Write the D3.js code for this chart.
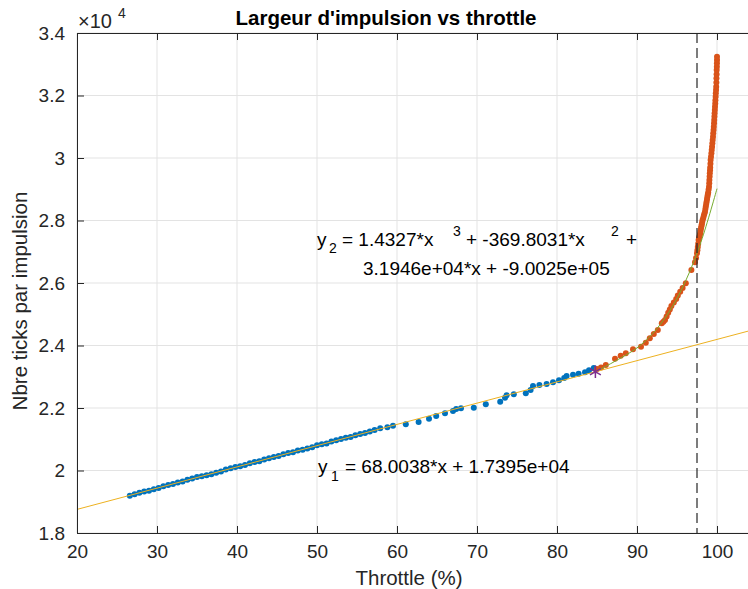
<!DOCTYPE html>
<html>
<head>
<meta charset="utf-8">
<script src="https://cdn.jsdelivr.net/npm/d3@7"></script>
<style>
  body { margin: 0; background: #fff; }
  text { font-family: "Liberation Sans", Arial, sans-serif; fill: #262626; }
</style>
</head>
<body>
<script>
var svgWidth = 748;
var svgHeight = 589;

// measured data (throttle %, ticks per pulse)
var blueThrottle = [26.6, 27.2, 27.8, 28.4, 29.0, 29.6, 30.2, 30.8, 31.4, 32.0, 32.6, 33.2, 33.8, 34.4, 35.0, 35.6,
  36.2, 36.8, 37.4, 38.0, 38.6, 39.2, 39.8, 40.4, 41.0, 41.6, 42.2, 42.8, 43.4, 44.0, 44.6, 45.2, 45.8, 46.4,
  47.0, 47.6, 48.2, 48.8, 49.4, 50.0, 50.6, 51.2, 51.8, 52.4, 53.0, 53.6, 54.2, 54.8, 55.4, 56.0, 56.6, 57.2,
  57.9, 58.8, 59.5, 61.1, 62.7, 64.0, 64.9, 66.0, 67.0, 67.4, 68.0, 69.6, 71.1, 72.9, 73.5, 73.7, 74.6, 76.1,
  76.7, 77.0, 77.8, 78.7, 79.5, 80.25, 80.9, 81.2, 82.0, 82.7, 83.5, 84.0, 84.6];
var blueTicks = [19194, 19238, 19292, 19330, 19355, 19402, 19440, 19498, 19536, 19565, 19620, 19650, 19705, 19742, 19790, 19820,
  19850, 19880, 19925, 19968, 20030, 20075, 20110, 20138, 20176, 20230, 20270, 20300, 20352, 20395, 20430, 20462, 20518, 20560,
  20585, 20640, 20668, 20705, 20745, 20810, 20840, 20868, 20925, 20965, 21010, 21045, 21075, 21130, 21170, 21198, 21250, 21300,
  21350, 21382, 21434, 21478, 21552, 21658, 21744, 21830, 21904, 21968, 21990, 22010, 22118, 22202, 22330, 22406, 22438, 22470,
  22576, 22704, 22736, 22768, 22822, 22886, 22960, 23024, 23066, 23098, 23142, 23206, 23280];

var orangeThrottle = [85.0, 85.5, 86.1, 87.25, 87.96, 88.6, 89.5, 90.5, 91.1, 91.6, 92.1, 92.6, 93.1, 93.3, 93.5, 93.7,
  93.9, 94.1, 94.3, 94.6, 94.9, 95.1, 95.4, 95.7, 96.1, 96.8, 97.25, 97.38, 97.5, 97.55, 97.6, 97.65, 97.7, 97.75,
  97.8, 97.85, 97.9, 97.95, 98.0, 98.05, 98.1, 98.15, 98.2, 98.28, 98.35, 98.42, 98.5, 98.55, 98.6, 98.65, 98.7,
  98.75, 98.8, 98.85, 98.9, 98.95, 99.0, 99.03, 99.05, 99.08, 99.1, 99.13, 99.15, 99.18, 99.2, 99.25, 99.3, 99.34,
  99.38, 99.42, 99.46, 99.5, 99.53, 99.57, 99.6, 99.63, 99.65, 99.68, 99.7, 99.73, 99.75, 99.78, 99.8, 99.83,
  99.85, 99.88, 99.9, 99.92, 99.93, 99.95, 99.96, 99.98, 99.99, 100.0, 100.0];
var orangeTicks = [23250, 23300, 23376, 23578, 23674, 23750, 23878, 23962, 24090, 24230, 24368, 24496, 24710, 24760, 24816, 24930,
  25050, 25150, 25264, 25380, 25488, 25600, 25722, 25840, 25990, 26416, 26662, 26800, 26950, 27050, 27150, 27260, 27376, 27430,
  27480, 27535, 27590, 27670, 27750, 27815, 27880, 27950, 28016, 28080, 28150, 28215, 28282, 28365, 28450, 28525, 28600,
  28680, 28762, 28830, 28900, 28990, 29082, 29190, 29300, 29405, 29510, 29605, 29700, 29820, 29936, 30040, 30150, 30255,
  30360, 30470, 30576, 30680, 30790, 30900, 31002, 31110, 31220, 31325, 31430, 31535, 31642, 31745, 31850, 31960,
  32070, 32175, 32282, 32415, 32550, 32680, 32816, 32920, 33030, 33140, 33242];

// fit curves
var fit1Throttle = [20, 104];
var fit1Ticks = [18755, 24467];
var fit2Throttle = [85, 87, 90, 92, 94, 96, 98, 100];
var fit2Ticks = [23191, 23460, 23923, 24395, 25072, 26022, 27315, 29019];

var switchPoint = [84.8, 23160];
var thresholdThrottle = 97.5;

var xTicks = [20, 30, 40, 50, 60, 70, 80, 90, 100];
var yTicks = [18000, 20000, 22000, 24000, 26000, 28000, 30000, 32000, 34000];

var svg = d3.select("body")
  .append("svg")
  .attr("width", svgWidth)
  .attr("height", svgHeight);

var x = d3.scaleLinear().domain([20, 104]).range([77, 749]);
var y = d3.scaleLinear().domain([18000, 34000]).range([533, 33]);

// grid
svg.append("g").selectAll("line")
  .data(xTicks)
  .enter().append("line")
  .attr("x1", d => x(d)).attr("x2", d => x(d))
  .attr("y1", 33).attr("y2", 533)
  .attr("stroke", "#e3e3e3");
svg.append("g").selectAll("line")
  .data(yTicks)
  .enter().append("line")
  .attr("x1", 77).attr("x2", 749)
  .attr("y1", d => y(d)).attr("y2", d => y(d))
  .attr("stroke", "#e3e3e3");

// points
svg.append("g").selectAll("circle")
  .data(blueThrottle)
  .enter().append("circle")
  .attr("cx", d => x(d))
  .attr("cy", (d, i) => y(blueTicks[i]))
  .attr("r", 3)
  .attr("fill", "#0072BD");

svg.append("g").selectAll("circle")
  .data(orangeThrottle)
  .enter().append("circle")
  .attr("cx", d => x(d))
  .attr("cy", (d, i) => y(orangeTicks[i]))
  .attr("r", 3)
  .attr("fill", "#D95319");

// fits
var line = d3.line()
  .x(d => x(d[0]))
  .y(d => y(d[1]))
  .curve(d3.curveCatmullRom);

svg.append("path")
  .datum(d3.zip(fit1Throttle, fit1Ticks))
  .attr("d", line)
  .attr("fill", "none")
  .attr("stroke", "#EDB120")
  .attr("stroke-width", 1);

svg.append("path")
  .datum(d3.zip(fit2Throttle, fit2Ticks))
  .attr("d", line)
  .attr("fill", "none")
  .attr("stroke", "#77AC30")
  .attr("stroke-width", 1);

// threshold
svg.append("line")
  .attr("x1", x(thresholdThrottle)).attr("x2", x(thresholdThrottle))
  .attr("y1", y(34000)).attr("y2", y(18000))
  .attr("stroke", "#262626")
  .attr("stroke-width", 1.2)
  .attr("stroke-dasharray", "10,5");

// switch point marker
svg.append("path")
  .attr("d", d3.symbol().type(d3.symbolAsterisk).size(110)())
  .attr("transform", `translate(${x(switchPoint[0])}, ${y(switchPoint[1])})`)
  .attr("fill", "none")
  .attr("stroke", "#7E2F8E")
  .attr("stroke-width", 1.5);

// axes
var fmtY = d => String(+(d / 1e4).toFixed(1));

var xAxis = svg.append("g")
  .attr("transform", "translate(0,533)")
  .call(d3.axisBottom(x).tickValues(xTicks).tickSizeInner(-7).tickSizeOuter(0).tickPadding(12));
var yAxis = svg.append("g")
  .attr("transform", "translate(77,0)")
  .call(d3.axisLeft(y).tickValues(yTicks).tickFormat(fmtY).tickSizeInner(-7).tickSizeOuter(0).tickPadding(12));
var topAxis = svg.append("g")
  .attr("transform", "translate(0,33)")
  .call(d3.axisTop(x).tickValues(xTicks).tickSizeInner(-7).tickSizeOuter(0).tickFormat(""));

[xAxis, yAxis, topAxis].forEach(function(g) {
  g.select(".domain").attr("stroke", "#262626");
  g.selectAll(".tick line").attr("stroke", "#262626");
  g.selectAll(".tick text").attr("fill", "#262626").style("font-size", "19px")
    .style("font-family", "'Liberation Sans', Arial, sans-serif");
});

// exponent label
var expo = svg.append("text").attr("x", 78).attr("y", 28).style("font-size", "20px");
expo.append("tspan").text("\u00d710");
expo.append("tspan").attr("x", 118).attr("y", 18).style("font-size", "14px").text("4");

// title and labels
svg.append("text")
  .attr("x", 386)
  .attr("y", 25)
  .attr("text-anchor", "middle")
  .style("font-size", "20.5px")
  .style("font-weight", "bold")
  .style("fill", "#000")
  .text("Largeur d'impulsion vs throttle");

svg.append("text")
  .attr("transform", "translate(409, 585)")
  .attr("text-anchor", "middle")
  .style("font-size", "20.5px")
  .text("Throttle (%)");

svg.append("text")
  .attr("transform", "translate(27, 301) rotate(-90)")
  .attr("text-anchor", "middle")
  .style("font-size", "20.5px")
  .text("Nbre ticks par impulsion");

// equation annotations
var eq2 = svg.append("text").style("font-size", "19px").style("fill", "#000");
eq2.append("tspan").attr("x", 317).attr("y", 246).text("y");
eq2.append("tspan").attr("x", 329).attr("y", 253).style("font-size", "14px").text("2");
eq2.append("tspan").attr("x", 342).attr("y", 246).text("= 1.4327*x");
eq2.append("tspan").attr("x", 453).attr("y", 236).style("font-size", "14px").text("3");
eq2.append("tspan").attr("x", 466).attr("y", 246).text("+ -369.8031*x");
eq2.append("tspan").attr("x", 611).attr("y", 236).style("font-size", "14px").text("2");
eq2.append("tspan").attr("x", 626).attr("y", 246).text("+");

svg.append("text")
  .attr("x", 363)
  .attr("y", 275)
  .style("font-size", "19px")
  .style("fill", "#000")
  .text("3.1946e+04*x + -9.0025e+05");

var eq1 = svg.append("text").style("font-size", "19px").style("fill", "#000");
eq1.append("tspan").attr("x", 318).attr("y", 473).text("y");
eq1.append("tspan").attr("x", 331).attr("y", 481).style("font-size", "14px").text("1");
eq1.append("tspan").attr("x", 345).attr("y", 473).text("= 68.0038*x + 1.7395e+04");
</script>
</body>
</html>
